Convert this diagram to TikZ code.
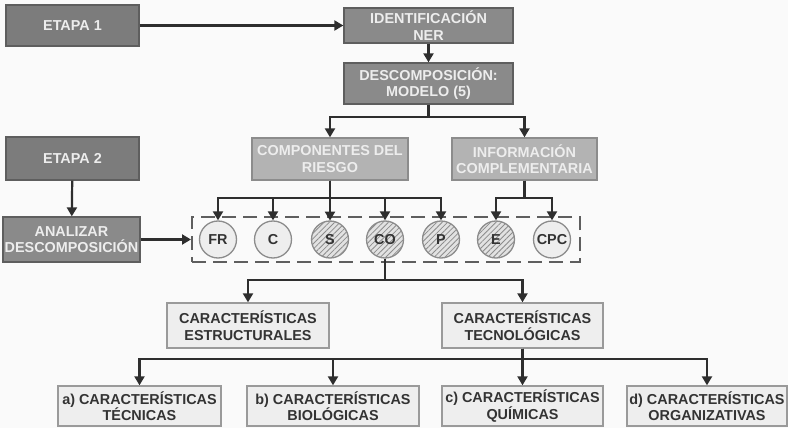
\documentclass[tikz,border=0pt]{standalone}
\usepackage{fontspec}
\setmainfont{Liberation Sans}
\usepackage{tikz}
\usetikzlibrary{arrows.meta}
\usetikzlibrary{patterns.meta}

\definecolor{fondo}{HTML}{FAFAFA}
\definecolor{grisetapa}{HTML}{7C7C7C}
\definecolor{grispaso}{HTML}{8A8A8A}
\definecolor{bordeoscuro}{HTML}{5E5E5E}
\definecolor{griscomp}{HTML}{B3B3B3}
\definecolor{bordecomp}{HTML}{8C8C8C}
\definecolor{grisclaro}{HTML}{EEEEEE}
\definecolor{bordeclaro}{HTML}{9A9A9A}
\definecolor{textoclaro}{HTML}{EDEDED}
\definecolor{textooscuro}{HTML}{333333}
\definecolor{linea}{HTML}{2E2E2E}

\begin{document}
\begin{tikzpicture}[
    x=1pt, y=-1pt,
    font=\bfseries\fontsize{14.4}{16.5}\selectfont,
    flecha/.style={line width=2.2pt, draw=linea, -{Triangle[length=9pt, width=10pt]}},
    caja/.style={rectangle, inner sep=0pt, align=center, line width=1.3pt},
    etapa/.style={caja, fill=grisetapa, draw=bordeoscuro, text=textoclaro},
    paso/.style={caja, fill=grispaso, draw=bordeoscuro, text=textoclaro},
    comp/.style={caja, fill=griscomp, draw=bordecomp, text=textoclaro},
    carac/.style={caja, fill=grisclaro, draw=bordeclaro, text=textooscuro},
    circ/.style={circle, minimum size=37pt, inner sep=0pt, line width=1.3pt,
        draw=bordecomp, fill=grisclaro, text=textooscuro},
    rayado/.style={circ, preaction={fill=grisclaro!95!black},
        pattern={Lines[angle=45, distance=3.8pt, line width=0.8pt]}, pattern color=bordecomp},
    ]

    \useasboundingbox [fill=fondo] (0,0) rectangle (788,428);

    % etapas y pasos
    \node (etapa1) [etapa, minimum width=133pt, minimum height=41pt] at (72.5,25.5) {ETAPA 1};
    \node (ident) [paso, minimum width=169pt, minimum height=35pt] at (428.5,25.5) {IDENTIFICACIÓN\\NER};
    \node (desc) [paso, minimum width=169pt, minimum height=41pt] at (428.5,83.5) {DESCOMPOSICIÓN:\\MODELO (5)};
    \node (etapa2) [etapa, minimum width=133pt, minimum height=43pt] at (72.5,158.5) {ETAPA 2};
    \node (analizar) [paso, minimum width=137pt, minimum height=45pt] at (71.5,239.5) {ANALIZAR\\DESCOMPOSICIÓN};

    \node (riesgo) [comp, minimum width=156pt, minimum height=42pt] at (330,159) {COMPONENTES DEL\\RIESGO};
    \node (info) [comp, minimum width=145pt, minimum height=42pt] at (524.5,159) {INFORMACIÓN\\COMPLEMENTARIA};

    % componentes
    \node (marco) [rectangle, draw=bordeoscuro, line width=2pt, dash pattern=on 14pt off 7pt,
        minimum width=388pt, minimum height=45pt] at (386,239.5) {};
    \foreach \n/\x/\s in {FR/218/circ, C/273/circ, S/330/rayado, CO/385/rayado,
        P/441/rayado, E/496/rayado, CPC/552/circ} {
        \node (\n) [\s] at (\x,239.5) {\n};
    }

    % caracteristicas
    \node (estruct) [carac, minimum width=162pt, minimum height=45pt] at (248,325.5) {CARACTERÍSTICAS\\ESTRUCTURALES};
    \node (tecno) [carac, minimum width=161pt, minimum height=45pt] at (522.5,325.5) {CARACTERÍSTICAS\\TECNOLÓGICAS};
    \node (tecnicas) [carac, minimum width=163pt, minimum height=40pt] at (139.5,406) {a) CARACTERÍSTICAS\\TÉCNICAS};
    \node (biologicas) [carac, minimum width=172pt, minimum height=40pt] at (333,406) {b) CARACTERÍSTICAS\\BIOLÓGICAS};
    \node (quimicas) [carac, minimum width=161pt, minimum height=40pt] at (522.5,406) {c) CARACTERÍSTICAS\\QUÍMICAS};
    \node (organiz) [carac, minimum width=160pt, minimum height=40pt] at (707,406) {d) CARACTERÍSTICAS\\ORGANIZATIVAS};

    \draw [flecha] (etapa1) -- (ident);
    \draw [flecha] (ident) -- (desc);
    \draw [flecha] (etapa2) -- (analizar);
    \draw [flecha] (analizar.east) -- (marco.west);
    \foreach \n in {riesgo, info} {
        \draw [flecha] (desc.south) -- ++(0,12) -| (\n.north);
    }
    \foreach \n in {FR, C, S, CO, P} {
        \draw [flecha] (riesgo.south) -- ++(0,17) -| (\n.north);
    }
    \foreach \n in {E, CPC} {
        \draw [flecha] (info.south) -- ++(0,17) -| (\n.north);
    }
    \foreach \n in {estruct, tecno} {
        \draw [flecha] (CO.south) -- ++(0,21) -| (\n.north);
    }
    \foreach \n in {tecnicas, biologicas, quimicas, organiz} {
        \draw [flecha] (tecno.south) -- ++(0,10) -| (\n.north);
    }
\end{tikzpicture}
\end{document}
